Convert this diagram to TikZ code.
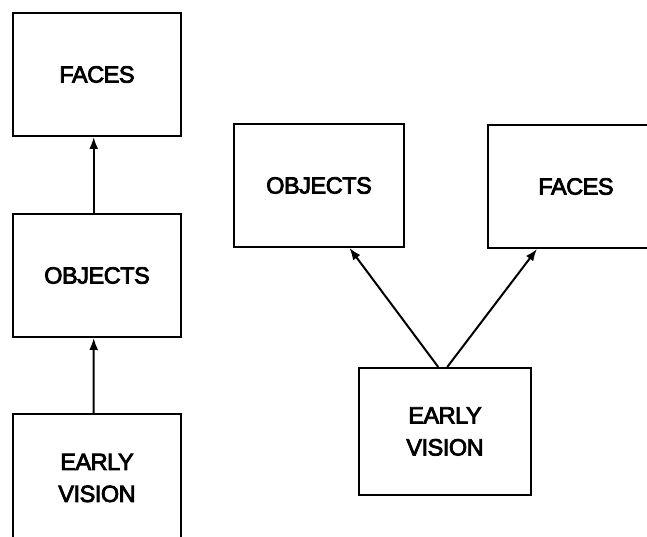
\documentclass[tikz,border=0pt]{standalone}
\usepackage{fontspec}
\newfontfamily\labelfont{Liberation Sans}[LetterSpace=-2]
\usetikzlibrary{arrows.meta}
% labels are filled and stroked with a thin outline for a heavier stroke
\newcommand\heavytext[1]{\special{pdf:literal direct 2 Tr 0.8 w}#1\special{pdf:literal direct 0 Tr}}
\begin{document}
\begin{tikzpicture}[x=1pt,y=1pt,
  blk/.style={draw=black, line width=2pt, fill=white, align=center,
    font=\labelfont\fontsize{23.5}{32}\selectfont, inner sep=0pt},
  link/.style={line width=2pt, -{Latex[length=12pt,width=9pt]}}]
  \useasboundingbox (0,0) rectangle (647,537);
  \clip (0,0) rectangle (647,537);
  % left column: a chain of three stages
  \node[blk, minimum width=168pt, minimum height=123pt] (lf) at (97,462.5) {\heavytext{FACES}};
  \node[blk, minimum width=168pt, minimum height=123pt] (lo) at (97,261.5) {\heavytext{OBJECTS}};
  \node[blk, minimum width=168pt, minimum height=128pt] (le) at (97,59) {\heavytext{EARLY}\\\heavytext{VISION}};
  \draw[link] (le.93) -- (lo.267);
  \draw[link] (lo.93) -- (lf.267);
  % right: one early stage feeding two parallel stages
  \node[blk, minimum width=170pt, minimum height=123pt] (ro) at (319,351.5) {\heavytext{OBJECTS}};
  \node[blk, minimum width=176pt, minimum height=123pt] (rf) at (576,350.5) {\heavytext{FACES}};
  \node[blk, minimum width=172pt, minimum height=127pt] (re) at (445,105.5) {\heavytext{EARLY}\\\heavytext{VISION}};
  \draw[link] (re.96) -- (ro.-64);
  \draw[link] (re.88) -- (rf.238);
\end{tikzpicture}
\end{document}
